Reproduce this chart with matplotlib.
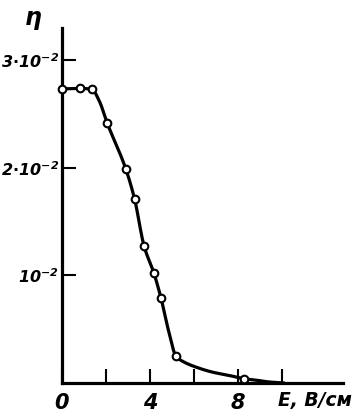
import numpy as np
import matplotlib
from matplotlib import pyplot as plt

matplotlib.use("Agg")

# measured points (open circles)
e_points = [0.0, 0.82, 1.36, 2.05, 2.9, 3.3, 3.73, 4.18, 4.5, 5.18, 8.27]
eta_points = [0.02735, 0.0274, 0.0273, 0.0242, 0.0199, 0.0171, 0.01274, 0.0102, 0.0079, 0.0025, 0.0004]

# smooth curve through the points
e_curve = [0.0, 0.82, 1.36, 1.7, 2.05, 2.9, 3.3, 3.73, 4.18, 4.5, 4.85, 5.18, 5.5, 6.2, 6.86, 7.6, 8.27, 8.7, 9.4, 10.1]
eta_curve = [0.02735, 0.0274, 0.0273, 0.0262, 0.0242, 0.0199, 0.0171, 0.01274, 0.0102, 0.0079, 0.0048, 0.0025, 0.0020, 0.0014, 0.0010, 0.0007, 0.0004, 0.0003, 0.0001, 0.0]

y_ticks = [0.01, 0.02, 0.03]
y_tick_labels = ["$10^{-2}$", "$2{\\cdot}10^{-2}$", "$3{\\cdot}10^{-2}$"]
x_major = [0, 4, 8]
x_minor = [2, 6, 10]


def pchip(xs, ys, n=20):
    """单调三次插值, 用于平滑曲线"""
    x = np.asarray(xs, float)
    y = np.asarray(ys, float)
    h = np.diff(x)
    d = np.diff(y) / h
    m = np.zeros_like(y)
    for k in range(1, len(x) - 1):
        if d[k - 1] * d[k] > 0:
            w1 = 2 * h[k] + h[k - 1]
            w2 = h[k] + 2 * h[k - 1]
            m[k] = (w1 + w2) / (w1 / d[k - 1] + w2 / d[k])
    m[0] = d[0]
    m[-1] = d[-1]
    out_x, out_y = [], []
    for k in range(len(x) - 1):
        t = np.linspace(0, 1, n, endpoint=False)
        h00 = 2 * t**3 - 3 * t**2 + 1
        h10 = t**3 - 2 * t**2 + t
        h01 = -2 * t**3 + 3 * t**2
        h11 = t**3 - t**2
        out_x.extend(x[k] + t * h[k])
        out_y.extend(h00 * y[k] + h10 * h[k] * m[k] + h01 * y[k + 1] + h11 * h[k] * m[k + 1])
    out_x.append(x[-1])
    out_y.append(y[-1])
    return np.array(out_x), np.array(out_y)


plt.rcParams["mathtext.fontset"] = "custom"
plt.rcParams["mathtext.it"] = "DejaVu Sans:bold:italic"
plt.rcParams["mathtext.rm"] = "DejaVu Sans:bold:italic"
plt.rcParams["mathtext.default"] = "it"

fig = plt.figure(figsize=(3.53, 4.19), dpi=100)
ax = fig.add_axes([0.1756, 0.0859, 0.796, 0.847])

cx, cy = pchip(e_curve, eta_curve)
ax.plot(cx, cy, color="black", lw=2.3, solid_capstyle="round", clip_on=False)
ax.plot(e_points, eta_points, "o", color="black", markerfacecolor="white",
        markeredgewidth=1.5, markersize=5.5, clip_on=False, zorder=3)

ax.set_xlim(0, 12.77)
ax.set_ylim(0, 0.033)

for side in ["top", "right"]:
    ax.spines[side].set_visible(False)
for side in ["left", "bottom"]:
    ax.spines[side].set_linewidth(2.3)

ax.set_xticks(x_major)
ax.set_xticks(x_minor, minor=True)
ax.set_xticklabels([str(v) for v in x_major])
ax.set_yticks(y_ticks)
ax.set_yticklabels(y_tick_labels)
ax.tick_params(axis="both", which="both", direction="in", length=10, width=1.5)
ax.tick_params(axis="x", pad=7)
ax.tick_params(axis="y", pad=2)

for lbl in ax.get_xticklabels():
    lbl.set_fontsize(15)
    lbl.set_fontweight("bold")
    lbl.set_fontstyle("italic")
for lbl in ax.get_yticklabels():
    lbl.set_fontsize(11.5)

fig.text(0.093, 0.957, "η", fontsize=17, fontweight="bold", fontstyle="italic",
         ha="center", va="center")
fig.text(0.998, 0.045, "E, В/см", fontsize=13.5, fontweight="bold", fontstyle="italic",
         ha="right", va="center")

plt.savefig("out.png", dpi=100)
plt.close("all")
